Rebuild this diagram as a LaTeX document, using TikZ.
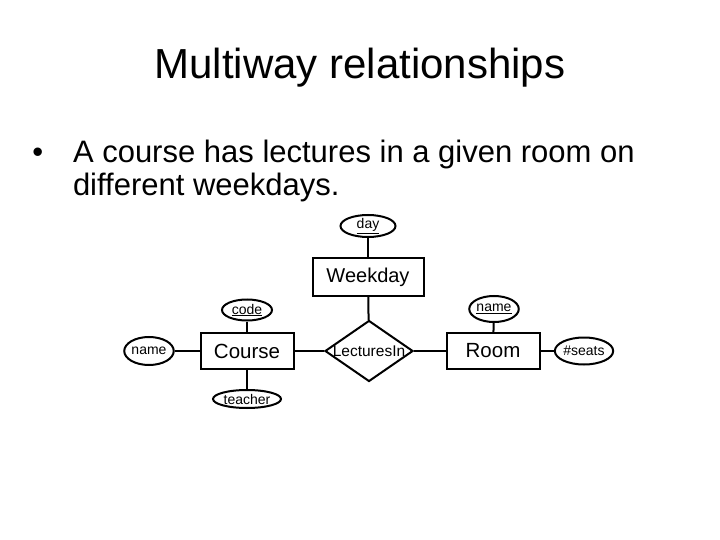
\documentclass[tikz,border=0pt]{standalone}
\usepackage{fontspec}
\setmainfont{Liberation Sans}
\usetikzlibrary{shapes.geometric}
\begin{document}
\begin{tikzpicture}[x=1pt,y=-1pt,line width=2pt,
  ent/.style={draw,rectangle,inner sep=0pt},
  att/.style={draw,ellipse,inner sep=0pt,font=\fontsize{14}{14}\selectfont},
  rel/.style={draw,diamond,inner sep=0pt,aspect=1.45,minimum width=88pt,minimum height=61pt,font=\fontsize{15.5}{15.5}\selectfont}]
\useasboundingbox[fill=white] (0,0) rectangle (720,540);
\node (title) at (360,68) {\fontsize{42}{42}\selectfont Multiway relationships};
\node[anchor=base west] (b) at (28,163) {\fontsize{31}{31}\selectfont •};
\node[anchor=base west,inner sep=0pt] (l1) at (72,163) {\fontsize{31}{31}\selectfont A course has lectures in a given room on};
\node[anchor=base west,inner sep=0pt] (l2) at (72,196) {\fontsize{31}{31}\selectfont different weekdays.};
\node[att,minimum width=55pt,minimum height=22pt] (day) at (368,226) {\underline{day}};
\node[ent,minimum width=111pt,minimum height=38pt,font=\fontsize{20}{20}\selectfont] (wk) at (368,277) {Weekday};
\node[rel] (li) at (369,351) {LecturesIn};
\node[ent,minimum width=93pt,minimum height=36pt,font=\fontsize{20.5}{20.5}\selectfont] (course) at (247,351) {Course};
\node[ent,minimum width=93pt,minimum height=36pt,font=\fontsize{20.5}{20.5}\selectfont] (room) at (493,351) {Room};
\node[att,minimum width=50pt,minimum height=21pt] (code) at (247,310) {\underline{code}};
\node[att,minimum width=47pt,minimum height=28pt] (cname) at (149,351) {name};
\node[att,minimum width=68pt,minimum height=18pt] (teacher) at (247,399) {teacher};
\node[att,minimum width=49pt,minimum height=26pt] (rname) at (494,309) {\underline{name}};
\node[att,minimum width=54pt,minimum height=27pt] (seats) at (584,351) {\#seats};
\draw (day) -- (wk);
\draw (wk) -- (li);
\draw (course) -- (li);
\draw (li) -- (room);
\draw (code) -- (course);
\draw (cname) -- (course);
\draw (teacher) -- (course);
\draw (rname) -- (room);
\draw (room) -- (seats);
\end{tikzpicture}
\end{document}
